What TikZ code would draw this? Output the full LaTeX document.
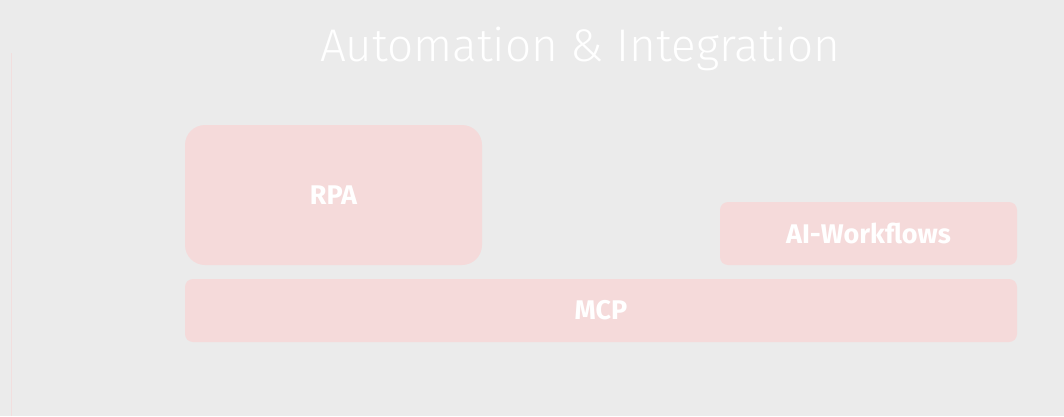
\documentclass[tikz,border=0pt]{standalone}
\usepackage{fontspec}
\setmainfont{Fira Sans}
\newfontfamily\titlefont{Fira Sans Light}
\definecolor{bg}{HTML}{EBEBEB}
\definecolor{boxfill}{HTML}{F5DADA}
\definecolor{faintline}{HTML}{F2DEDE}
\begin{document}
\begin{tikzpicture}[x=1pt,y=1pt,
  blk/.style={fill=boxfill, draw=none, rounded corners=8pt},
  lbl/.style={text=white, font=\fontsize{27}{32}\selectfont\bfseries}]
\fill[bg] (0,0) rectangle (1064,416);
\useasboundingbox (0,0) rectangle (1064,416);
\draw[faintline, line width=0.5pt] (11.5,0) -- (11.5,363);
\node[text=white, font=\titlefont\fontsize{45.8}{55}\selectfont, anchor=base] (title) at (580,354) {Automation \& Integration};
\path[blk, rounded corners=20pt] (185,151) rectangle (482,291);
\node[lbl] (rpa) at (333.5,221) {RPA};
\path[blk] (720,151) rectangle (1017,214);
\node[lbl] (aiw) at (868.5,182.5) {AI-Workflows};
\path[blk] (185,74) rectangle (1017,137);
\node[lbl] (mcp) at (601,105.5) {MCP};
\end{tikzpicture}
\end{document}
